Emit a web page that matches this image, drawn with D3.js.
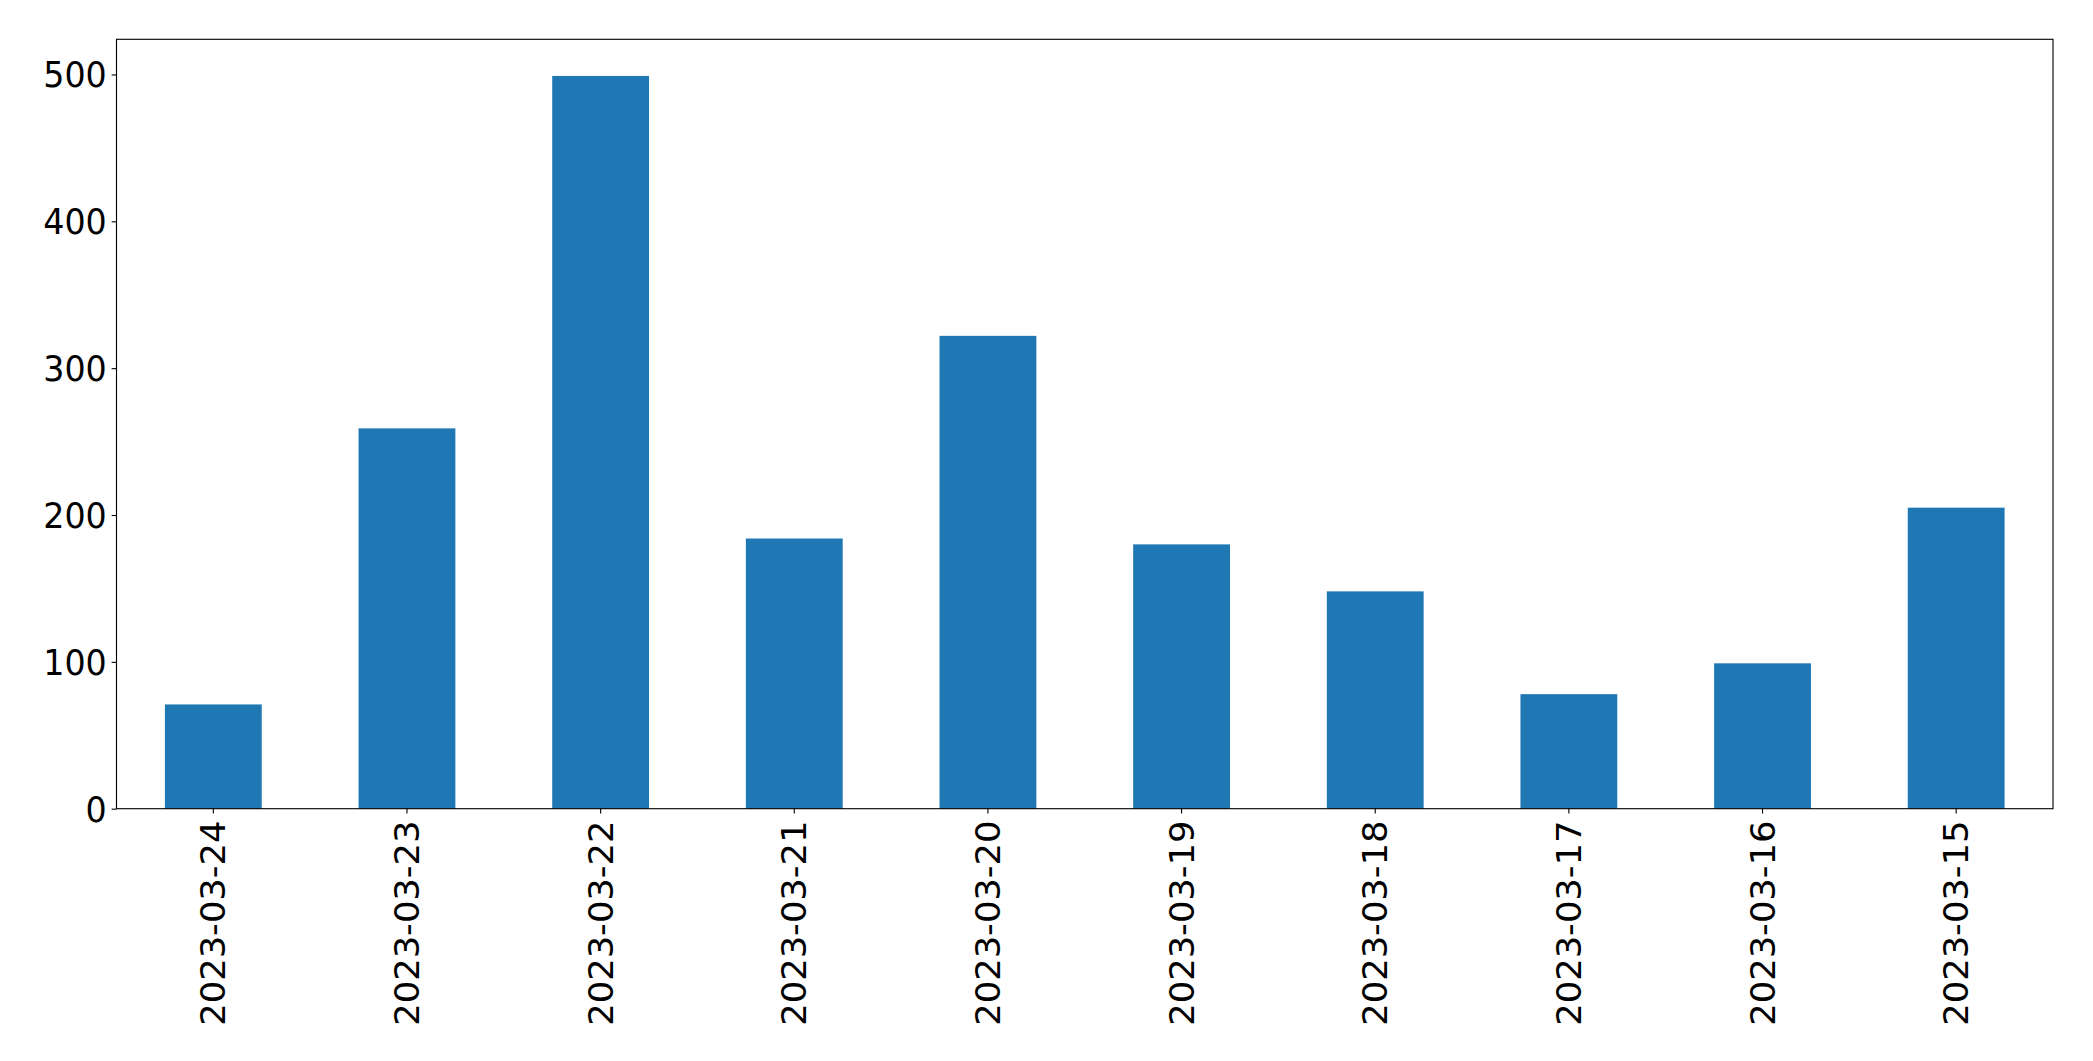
<!DOCTYPE html>
<html>
<head>
<meta charset="utf-8">
<script src="https://cdn.jsdelivr.net/npm/d3@7"></script>
<style>
  html, body { margin: 0; padding: 0; background: #fff; }
  svg { display: block; }
  text { font-family: "DejaVu Sans", sans-serif; fill: #000; }
</style>
</head>
<body>
<script>
const categories = ["2023-03-24","2023-03-23","2023-03-22","2023-03-21","2023-03-20","2023-03-19","2023-03-18","2023-03-17","2023-03-16","2023-03-15"];
const values = [71, 259, 499, 184, 322, 180, 148, 78, 99, 205];
const yTicks = [0, 100, 200, 300, 400, 500];

const W = 2093, H = 1061;
const margin = {left: 116.5, right: 2053, top: 39.3, bottom: 808.7};
const fontSize = 33.3;
const stretch = 1.062; // glyphs appear vertically stretched in the reference
const tickLen = 4.86, tickPad = 4.86;
const lw = 1.11;

const svg = d3.select("body").append("svg").attr("width", W).attr("height", H);

const x = d3.scaleBand().domain(categories).range([margin.left, margin.right]).paddingInner(0.5).paddingOuter(0.25);
const y = d3.scaleLinear().domain([0, d3.max(values) * 1.05]).range([margin.bottom, margin.top]);

svg.append("g").selectAll("rect").data(values).join("rect")
  .attr("x", (d, i) => x(categories[i]))
  .attr("width", x.bandwidth())
  .attr("y", d => y(d))
  .attr("height", d => y(0) - y(d))
  .attr("fill", "#1f77b4");

// Y axis
const yAxis = d3.axisLeft(y).tickValues(yTicks).tickSize(tickLen).tickPadding(tickPad).tickSizeOuter(0);
const gy = svg.append("g").attr("transform", `translate(${margin.left},0)`).call(yAxis);
gy.select(".domain").remove();
gy.selectAll(".tick line").attr("stroke", "#000").attr("stroke-width", lw);
gy.selectAll(".tick text")
  .attr("font-size", fontSize)
  .attr("font-family", "DejaVu Sans")
  .attr("dy", "0.35em")
  .attr("fill", "#000")
  .attr("transform", `scale(1,${stretch})`);

// X axis
const xAxis = d3.axisBottom(x).tickSize(tickLen).tickPadding(tickPad).tickSizeOuter(0);
const gx = svg.append("g").attr("transform", `translate(0,${margin.bottom})`).call(xAxis);
gx.select(".domain").remove();
gx.selectAll(".tick line").attr("stroke", "#000").attr("stroke-width", lw);
gx.selectAll(".tick text")
  .attr("font-size", fontSize)
  .attr("font-family", "DejaVu Sans")
  .attr("fill", "#000")
  .attr("text-anchor", "end")
  .attr("transform", `translate(0,${tickLen + tickPad + 2}) scale(1,${stretch}) rotate(-90)`)
  .attr("x", 0)
  .attr("y", 0)
  .attr("dy", "0.36em");

// Frame
svg.append("rect")
  .attr("x", margin.left).attr("y", margin.top)
  .attr("width", margin.right - margin.left)
  .attr("height", margin.bottom - margin.top)
  .attr("fill", "none").attr("stroke", "#000").attr("stroke-width", lw);
</script>
</body>
</html>
